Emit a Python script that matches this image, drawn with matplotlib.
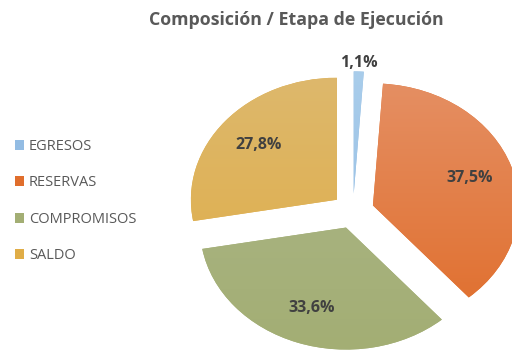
import numpy as np
import matplotlib.pyplot as plt
from matplotlib.colors import to_rgb

labels = ["EGRESOS", "RESERVAS", "COMPROMISOS", "SALDO"]
shares = [1.1, 37.5, 33.6, 27.8]

# base colour (bottom of each slice) and lighter top colour for the shading
base_colors = ["#93BCE3", "#E06E2C", "#A3AE74", "#E0AD47"]
top_colors = ["#A9CDEB", "#E58F63", "#ABB688", "#DDB86C"]

plt.rcParams['font.family'] = ['Open Sans', 'DejaVu Sans']

fig = plt.figure(figsize=(5.12, 3.54), dpi=100)
# axes sized so one data unit is 146 px wide and 122 px tall (flattened pie)
ax = fig.add_axes([119.4/512, -52.2/354, 467.2/512, 390.4/354])

def pct_label(p):
    return "{0:.1f}%".format(p).replace(".", ",")

explode = [0.144]*len(shares)
wedges, texts, autotexts = ax.pie(shares, startangle=90, counterclock=False,
                                  explode=explode, colors=base_colors,
                                  autopct=pct_label, pctdistance=0.70,
                                  textprops=dict(color="#404040", fontsize=11.5, fontweight="bold"))
ax.set_aspect('auto')
ax.axis('off')

# vertical shading inside every slice
for w, c_top, c_bot in zip(wedges, top_colors, base_colors):
    grad = np.linspace(0, 1, 256)[:, None, None]
    img = (1-grad)*np.array(to_rgb(c_top)) + grad*np.array(to_rgb(c_bot))
    x0, y0 = w.center[0]-1, w.center[1]-1
    im = ax.imshow(img, extent=(x0, x0+2, y0, y0+2), origin='upper',
                   aspect='auto', zorder=w.get_zorder()+0.1)
    im.set_clip_path(w)
ax.set_xlim(-1.6, 1.6)
ax.set_ylim(-1.6, 1.6)

for t in autotexts:
    t.set_zorder(5)

# the thin slice gets its label outside the pie
w = wedges[0]
th = np.deg2rad((w.theta1+w.theta2)/2)
autotexts[0].set_position((w.center[0]+1.07*np.cos(th), w.center[1]+1.07*np.sin(th)))

fig.text(296/512, 1-20/354, "Composición / Etapa de Ejecución", ha="center", va="center",
         fontsize=12.8, fontweight="bold", color="#595959")

leg = fig.legend(wedges, labels, loc="upper left", bbox_to_anchor=(15/512, 1-139/354),
                 frameon=False, fontsize=10.5, labelcolor="#595959",
                 handlelength=0.65, handleheight=0.65, handletextpad=0.3,
                 labelspacing=1.47, borderpad=0, borderaxespad=0)

fig.savefig("out.png", dpi=100)
